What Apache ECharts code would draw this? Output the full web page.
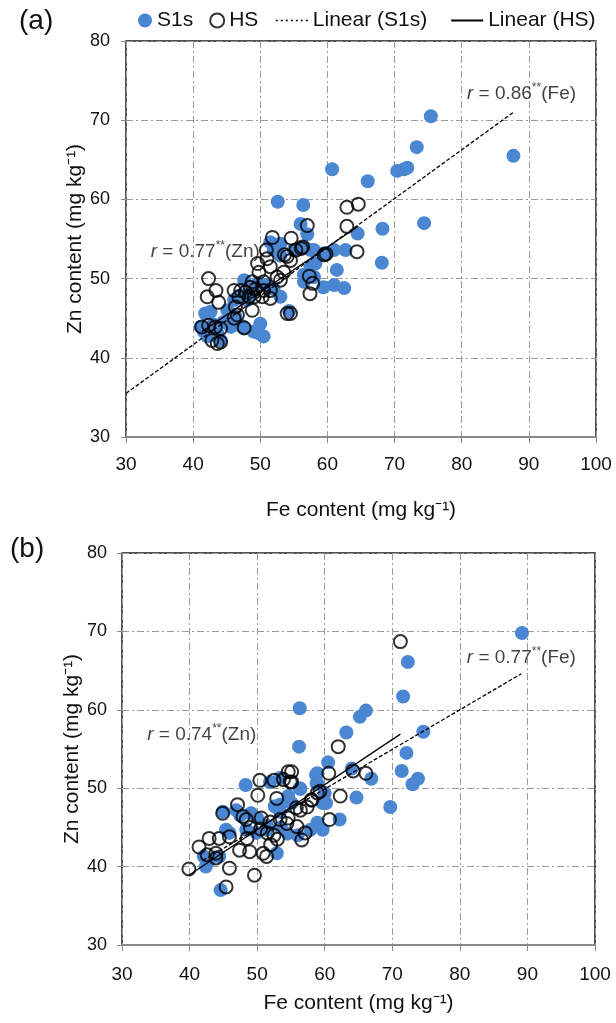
<!DOCTYPE html>
<html>
<head>
<meta charset="utf-8">
<script src="https://cdn.jsdelivr.net/npm/echarts@6/dist/echarts.min.js"></script>
<style>
html,body{margin:0;padding:0;background:#fff;}
#chart{width:616px;height:1023px;}
</style>
</head>
<body>
<div id="chart"></div>
<script>
// ---------- data ----------
// Panel (a): [Fe, Zn]
const aS1s = [
 [75.4,70.5],[73.3,66.6],[60.7,63.8],[66.0,62.3],[70.4,63.6],[71.4,63.8],[71.9,64.0],[87.7,65.5],
 [52.6,59.7],[56.4,59.3],[74.4,57.0],[68.2,56.3],[64.5,55.7],[56.0,56.9],[57.0,55.6],[68.1,52.0],
 [62.7,53.6],[61.0,53.6],[57.5,53.6],[59.5,53.2],[58.0,53.6],[61.4,51.1],[58.2,51.9],[57.5,51.5],
 [56.5,50.5],[58.0,50.2],[59.4,48.9],[61.0,49.2],[62.5,48.8],[56.5,49.6],
 [51.5,54.6],[53.0,54.4],[55.0,53.6],[56.5,54.0],[52.0,53.6],[53.0,52.9],
 [47.6,49.8],[49.6,49.4],[51.0,49.2],[52.0,48.7],[53.0,47.7],
 [47.1,47.9],[46.1,47.3],[48.1,47.3],[42.6,45.8],[41.8,45.6],[41.1,43.9],[41.6,43.3],[43.6,43.1],
 [45.6,43.9],[47.6,43.7],[49.0,43.3],[49.8,43.1],[50.5,42.7],
 [46.3,45.2],[44.1,42.2],[45.1,46.0],[50.0,44.3],[42.1,42.7],[43.6,42.7],[54.3,45.9],[48.0,48.0],
 [49.0,48.2],[46.5,44.2],[47.2,44.0],[44.5,44.5],[43.0,44.2]
];
const aHS = [
 [62.9,59.0],[64.6,59.4],[62.9,56.6],[57.0,56.7],[64.4,53.4],[59.5,53.0],[59.8,53.1],[54.6,55.1],
 [56.3,54.0],[53.6,53.0],[54.0,52.8],[57.3,50.3],[57.8,49.4],[57.4,48.1],
 [51.8,55.2],[50.9,53.6],[51.0,52.5],[54.5,52.3],[49.6,51.9],[51.5,51.5],[49.8,50.8],[53.5,50.8],
 [53.0,49.8],[42.3,50.0],[48.8,49.6],[50.5,49.6],[49.3,48.7],[50.5,48.5],[51.5,48.5],[43.4,48.5],
 [46.1,48.5],[47.8,48.3],[47.1,48.5],[48.5,48.9],[42.1,47.7],[43.8,47.0],[46.8,47.7],[48.3,47.7],
 [50.3,47.7],[49.1,47.7],[51.5,47.5],[48.8,46.0],[46.3,46.4],[46.6,45.4],[46.1,45.0],[54.0,45.6],
 [54.5,45.6],[41.3,43.9],[42.3,44.1],[43.3,43.9],[44.1,43.7],[42.8,42.2],[43.6,41.8],[44.1,42.0],
 [47.6,43.8],[52.5,50.2],[55.3,53.6],[56.1,53.8]
];
// Panel (b): [Fe, Zn]
const bS1s = [
 [89.2,69.8],[72.3,66.1],[71.6,61.7],[56.3,60.2],[66.1,59.9],[65.2,59.1],[63.2,57.1],[74.6,57.2],
 [56.2,55.3],[72.1,54.5],[60.5,53.3],[64.0,52.5],[71.4,52.2],[58.7,51.7],[58.8,50.6],[66.9,51.2],
 [73.0,50.5],[73.8,51.2],[56.3,50.0],[64.7,48.8],[60.2,48.1],[69.7,47.6],[62.2,46.0],
 [48.3,50.4],[51.9,50.8],[53.4,51.3],[58.9,51.9],[56.4,49.9],[58.9,50.6],[44.9,47.0],[53.4,47.9],
 [53.4,47.0],[45.4,44.7],[57.9,44.7],[54.5,44.2],[56.0,44.0],[52.9,41.7],[42.1,41.3],[42.9,40.8],
 [44.6,37.0],[54.6,49.0],[55.1,48.1],[52.6,47.7],[59.7,48.1],[60.0,49.4],[59.7,44.7],[46.9,47.2],
 [49.1,46.8],[48.4,44.7],[49.9,44.3],[51.4,44.7],[45.9,44.3],[42.4,40.0],[44.4,41.3],[51.5,45.2],
 [53.5,45.0],[58.9,45.6],[47.5,46.5],[50.0,46.2]
];
const bHS = [
 [71.2,68.7],[62.0,55.3],[60.6,51.9],[64.2,52.2],[66.1,51.9],[62.3,49.0],[59.3,49.6],[58.0,48.5],
 [55.1,52.1],[55.1,50.8],[55.8,47.5],[60.7,46.0],[54.6,52.1],[53.9,51.1],[54.9,50.8],[52.5,51.0],
 [50.4,51.0],[50.1,49.1],[52.9,48.7],[47.1,47.9],[44.9,46.8],[47.9,46.4],[48.4,46.0],
 [50.6,46.2],[51.9,45.7],[53.4,46.0],[54.6,46.2],[56.4,47.2],[57.4,47.6],[58.1,48.5],[58.9,49.4],
 [42.9,43.6],[44.4,43.6],[45.9,43.8],[41.4,42.5],[43.9,41.7],[43.9,41.1],[42.6,41.5],[47.4,42.1],
 [48.9,41.9],[50.9,41.7],[51.4,41.3],[45.9,39.8],[49.6,38.9],[39.9,39.7],[45.4,37.4],
 [56.6,43.4],[57.1,44.3],[55.9,45.1],[54.4,45.5],[49.0,45.0],[50.5,44.8],[51.5,44.3],[52.5,44.0],
 [53.0,43.5],[52.0,42.8],[48.5,43.6]
];
// Trend line end points
const aTrendS1s = [[30,35.5],[87.7,71.0]];
const aTrendHS  = [[41.3,43.3],[64.6,56.6]];
const bTrendS1s = [[42.0,40.8],[89.1,64.6]];
const bTrendHS  = [[39.9,38.9],[71.2,56.9]];
// Correlation notes: [Fe, Zn, r, element]
const aNotes = [[88.9,73.4,'0.86','Fe'],[41.8,53.4,'0.77','Zn']];
const bNotes = [[89.1,66.6,'0.77','Fe'],[41.8,56.8,'0.74','Zn']];
// Axis ranges / labels
const feRange = [30,100,10];
const znRange = [30,80,10];
const xName = 'Fe content (mg kg\u207B\u00B9)';
const yName = 'Zn content (mg kg\u207B\u00B9)';
const panelLabels = ['(a)','(b)'];

// ---------- chart ----------
const FONT = 'Liberation Sans, Arial, sans-serif';
const BLUE = '#4A86D2';
const gridStyle = {show:true, borderColor:'#1a1a1a', borderWidth:1.5, backgroundColor:'#fff'};
const splitStyle = {show:true, lineStyle:{color:'#9a9a9a', width:1, type:[7,3,2,3]}};

function xAxis(idx, gap, margin){
  return {
    type:'value', gridIndex:idx, min:feRange[0], max:feRange[1], interval:feRange[2],
    name:xName, nameLocation:'middle', nameGap:gap, nameMoveOverlap:false,
    nameTextStyle:{fontFamily:FONT, fontSize:21, color:'#111'},
    axisLine:{show:true, onZero:false, lineStyle:{color:'#8a8a8a', width:2}},
    axisTick:{show:true, length:6, lineStyle:{color:'#8a8a8a', width:1}},
    axisLabel:{fontFamily:FONT, fontSize:19, color:'#111', margin:margin},
    splitLine:splitStyle
  };
}
function yAxis(idx, gap, margin){
  return {
    type:'value', gridIndex:idx, min:znRange[0], max:znRange[1], interval:znRange[2],
    name:yName, nameLocation:'middle', nameGap:gap, nameRotate:90, nameMoveOverlap:false,
    nameTextStyle:{fontFamily:FONT, fontSize:21, color:'#111'},
    axisLine:{show:false},
    axisTick:{show:true, length:5, lineStyle:{color:'#8a8a8a', width:1}},
    axisLabel:{fontFamily:FONT, fontSize:18, color:'#111', margin:margin},
    splitLine:splitStyle
  };
}
function noteSeries(idx, notes){
  return {
    type:'scatter', xAxisIndex:idx, yAxisIndex:idx, symbolSize:0, silent:true, z:10,
    data:notes.map(n=>({value:[n[0],n[1]], r:n[2], el:n[3]})),
    label:{show:true, position:'inside', fontFamily:FONT, color:'#111', fontSize:19,
      formatter:p=>'{i|r} = '+p.data.r+'{s|**}('+p.data.el+')',
      rich:{
        i:{fontFamily:FONT, fontStyle:'italic', fontSize:19, color:'#111'},
        s:{fontFamily:FONT, fontSize:12, color:'#111', padding:[0,0,12,0]}
      }}
  };
}
function panelSeries(idx, s1s, hs, tS, tH){
  return [
    {name:'S1s', type:'scatter', xAxisIndex:idx, yAxisIndex:idx, data:s1s, symbol:'circle', symbolSize:14,
     itemStyle:{color:BLUE, opacity:1}, z:3},
    {name:'HS', type:'scatter', xAxisIndex:idx, yAxisIndex:idx, data:hs, symbol:'circle', symbolSize:13,
     itemStyle:{color:'rgba(0,0,0,0)', borderColor:'#000', borderWidth:2}, z:4},
    {name:'Linear (S1s)', type:'line', xAxisIndex:idx, yAxisIndex:idx, data:tS, symbol:'none',
     itemStyle:{color:'#000'}, lineStyle:{color:'#000', width:1.3, type:[4,2]}, z:5, silent:true},
    {name:'Linear (HS)', type:'line', xAxisIndex:idx, yAxisIndex:idx, data:tH, symbol:'none',
     itemStyle:{color:'#000'}, lineStyle:{color:'#000', width:1.3, type:'solid'}, z:5, silent:true}
  ];
}

const chart = echarts.init(document.getElementById('chart'), null, {renderer:'canvas'});
chart.setOption({
  animation:false,
  backgroundColor:'#fff',
  textStyle:{fontFamily:FONT},
  legend:[
    {data:['S1s','HS'], left:133, top:5, itemWidth:14, itemHeight:14, itemGap:16,
     textStyle:{fontFamily:FONT, fontSize:21, color:'#111'}},
    {data:[
       {name:'Linear (S1s)', itemStyle:{opacity:0}, lineStyle:{type:[2,3], width:1.6}},
       {name:'Linear (HS)', itemStyle:{opacity:0}}
     ], left:270, top:5, itemWidth:32, itemHeight:14, itemGap:23,
     textStyle:{fontFamily:FONT, fontSize:21, color:'#111'}}
  ],
  grid:[
    Object.assign({left:126, top:41, width:470, height:396}, gridStyle),
    Object.assign({left:122, top:553, width:473, height:392}, gridStyle)
  ],
  xAxis:[xAxis(0,63,18), xAxis(1,48,20)],
  yAxis:[yAxis(0,40,16), yAxis(1,39,15)],
  graphic:[
    {type:'text', left:19, top:7, style:{text:panelLabels[0], font:'28px '+FONT, fill:'#111'}},
    {type:'text', left:10, top:535, style:{text:panelLabels[1], font:'28px '+FONT, fill:'#111'}}
  ],
  series:[].concat(
    panelSeries(0, aS1s, aHS, aTrendS1s, aTrendHS),
    panelSeries(1, bS1s, bHS, bTrendS1s, bTrendHS),
    [noteSeries(0, aNotes), noteSeries(1, bNotes)]
  )
});
</script>
</body>
</html>
